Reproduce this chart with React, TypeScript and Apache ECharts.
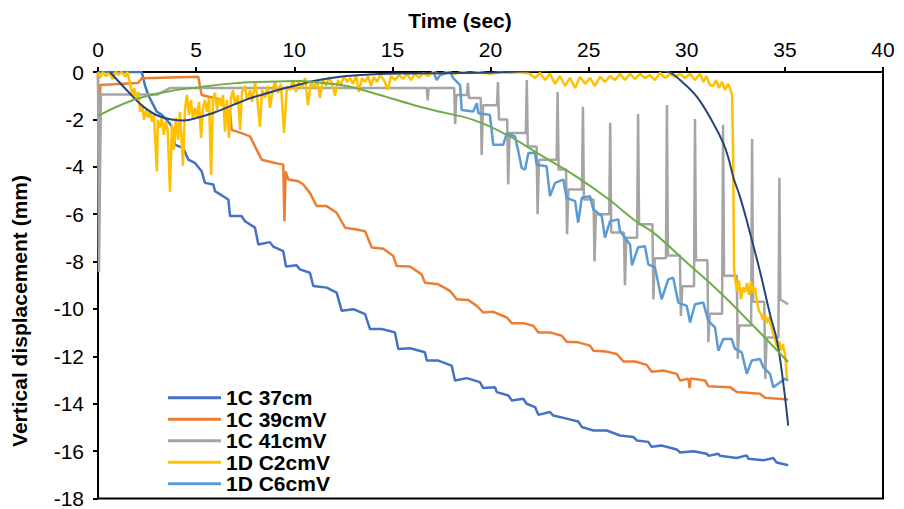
import React, { useEffect, useRef } from 'react';
import * as echarts from 'echarts';

// ---- data (time in s, vertical displacement in mm) ----
const xTickValues = [0, 5, 10, 15, 20, 25, 30, 35, 40];
const yTickValues = [0, -2, -4, -6, -8, -10, -12, -14, -16, -18];
const xTitle = 'Time (sec)';
const yTitle = 'Vertical displacement (mm)';

const seriesNames = ['1C 37cm', '1C 39cmV', '1C 41cmV', '1D C2cmV', '1D C6cmV'];
const trendNames = ['Poly. (1D C2cmV)', 'Poly. (1D C6cmV)'];

const s1C37cm = [
  [0, 0], [2.23, 0], [2.39, -0.55], [2.56, -0.97], [2.99, -1.67], [3.25, -1.81], [3.5, -2.02], [3.76, -2.3],
  [3.92, -3.07], [4.35, -3.21], [4.6, -3.7], [4.94, -3.84], [5.28, -4.19], [5.45, -4.68], [5.88, -4.75],
  [5.96, -5.03], [6.64, -5.38], [6.73, -6.08], [7.32, -6.08], [7.49, -6.3], [8.0, -6.57], [8.17, -7.28],
  [8.76, -7.18], [8.93, -7.37], [9.44, -7.56], [9.58, -8.21], [10.12, -8.16], [10.29, -8.33], [10.8, -8.47],
  [10.97, -9.03], [11.65, -9.1], [12.16, -9.31], [12.42, -10.08], [13.01, -10.01], [13.61, -10.22],
  [13.86, -10.85], [14.46, -10.85], [15.13, -10.99], [15.3, -11.69], [15.9, -11.66], [16.66, -11.83],
  [16.75, -12.18], [17.34, -12.18], [18.02, -12.39], [18.19, -13.02], [18.79, -12.92], [19.46, -13.09],
  [19.63, -13.34], [20.23, -13.3], [20.32, -13.51], [20.91, -13.65], [21.08, -13.86], [21.67, -13.79],
  [21.84, -14.0], [22.27, -14.14], [22.44, -14.47], [23.03, -14.35], [23.2, -14.5], [23.88, -14.63],
  [24.47, -14.75], [24.65, -14.98], [25.24, -15.13], [25.92, -15.13], [26.6, -15.34], [27.28, -15.4],
  [27.45, -15.55], [28.04, -15.61], [28.21, -15.82], [28.72, -15.76], [29.49, -15.93], [29.66, -16.06],
  [30.33, -16.01], [31.02, -16.11], [31.1, -16.2], [31.61, -16.11], [31.69, -16.2], [32.54, -16.29],
  [33.05, -16.18], [33.14, -16.32], [33.9, -16.39], [34.41, -16.29], [34.58, -16.48], [35.17, -16.6],
];

const s1C39cmV = [
  [0, 0], [0.05, -4.0], [0.12, -0.55], [2.04, -0.46], [2.23, -0.26], [5.11, -0.2], [5.28, -0.97],
  [5.96, -1.11], [6.3, -1.18], [6.47, -1.6], [6.73, -1.67], [6.81, -2.44], [7.32, -2.58], [7.75, -2.72],
  [8.0, -3.14], [8.34, -3.7], [9.02, -3.84], [9.44, -3.91], [9.5, -6.3], [9.56, -4.2], [9.7, -4.54],
  [10.21, -4.61], [10.46, -4.75], [10.8, -5.1], [11.14, -5.66], [11.65, -5.66], [12.16, -5.94],
  [12.59, -6.57], [13.1, -6.64], [13.61, -6.72], [13.95, -7.41], [14.54, -7.46], [15.05, -7.77],
  [15.22, -8.19], [15.9, -8.21], [16.49, -8.54], [16.66, -8.89], [17.34, -8.96], [17.94, -9.24],
  [18.28, -9.59], [18.87, -9.62], [19.3, -9.87], [19.63, -10.15], [20.14, -10.12], [20.83, -10.36],
  [21.08, -10.6], [21.67, -10.6], [22.18, -10.71], [22.44, -10.99], [23.03, -10.99], [23.63, -11.13],
  [23.88, -11.38], [24.47, -11.41], [25.07, -11.55], [25.24, -11.76], [25.92, -11.8], [26.43, -11.9],
  [26.77, -12.22], [27.36, -12.22], [27.96, -12.36], [28.21, -12.65], [28.8, -12.6], [29.49, -12.74],
  [29.66, -13.02], [30.08, -12.95], [30.15, -13.34], [30.2, -12.93], [30.93, -13.02], [31.1, -13.26],
  [32.2, -13.3], [32.55, -13.51], [33.73, -13.58], [33.99, -13.75], [35.17, -13.82],
];

const s1C41cmV = [
  [0, 0], [0.05, -8.45], [0.15, -0.95], [3.05, -0.95], [3.65, -0.68], [16.75, -0.68], [16.8, -1.2],
  [16.85, -0.68], [18.15, -0.68], [18.2, -2.2], [18.26, -0.97], [18.8, -0.97], [18.85, -0.46], [18.9, -1.1],
  [19.5, -1.1], [19.55, -3.5], [19.62, -1.4], [20.33, -1.4], [20.38, -0.42], [20.43, -2.0],
  [20.85, -2.0], [20.9, -4.75], [20.97, -2.57], [21.8, -2.57], [21.85, -0.34], [21.9, -3.14],
  [22.35, -3.14], [22.4, -6.0], [22.47, -3.7], [23.37, -3.7], [23.42, -0.84], [23.47, -4.12],
  [23.85, -4.12], [23.9, -6.85], [23.97, -4.96], [24.66, -4.96], [24.71, -1.47], [24.76, -5.38],
  [25.25, -5.38], [25.3, -8.0], [25.37, -6.0], [26.05, -6.0], [26.1, -2.14], [26.15, -6.77],
  [26.8, -6.77], [26.85, -9.0], [26.92, -7.0], [27.47, -7.0], [27.52, -1.77], [27.57, -6.43],
  [28.25, -6.43], [28.3, -9.6], [28.37, -7.86], [28.94, -7.86], [28.99, -1.39], [29.04, -7.74],
  [29.65, -7.74], [29.7, -10.3], [29.77, -9.04], [30.37, -9.04], [30.42, -1.98], [30.47, -7.95],
  [31.05, -7.95], [31.1, -11.4], [31.17, -10.2], [31.8, -10.2], [31.85, -2.23], [31.9, -8.6],
  [32.55, -8.6], [32.6, -12.1], [32.67, -10.7], [33.28, -10.7], [33.33, -2.83], [33.38, -9.7],
  [33.95, -9.7], [34.0, -12.95], [34.07, -11.2], [34.67, -11.2], [34.72, -4.46], [34.77, -9.6],
  [35.17, -9.8],
];

const s1DC2cmV = [
  [0, 0], [0.1, -0.25], [0.25, 0], [0.4, -0.17], [0.6, -0.05], [0.75, -0.3], [0.9, 0], [1.05, -0.12],
  [1.2, 0], [1.4, -0.2], [1.5, 0], [1.6, -0.35], [1.75, -0.97], [1.85, -0.67], [1.95, -1.18], [2.05, -0.84],
  [2.15, -1.68], [2.25, -1.39], [2.35, -2.02], [2.45, -1.6], [2.55, -1.93], [2.65, -1.68], [2.75, -2.1],
  [2.85, -1.81], [3.0, -4.2], [3.05, -2.02], [3.15, -2.35], [3.25, -1.93], [3.35, -2.65], [3.45, -2.1],
  [3.55, -2.44], [3.67, -5.05], [3.77, -2.23], [3.87, -3.28], [3.97, -1.93], [4.08, -2.86], [4.18, -1.68],
  [4.33, -3.95], [4.43, -1.6], [4.53, -0.97], [4.64, -1.81], [4.74, -1.18], [4.84, -2.02], [4.94, -1.51],
  [5.04, -1.93], [5.15, -1.26], [5.25, -2.78], [5.35, -1.51], [5.45, -1.18], [5.55, -1.68], [5.66, -1.09],
  [5.76, -4.33], [5.86, -1.18], [5.96, -0.88], [6.06, -1.6], [6.17, -1.09], [6.27, -1.43], [6.37, -0.97],
  [6.47, -2.52], [6.57, -1.18], [6.67, -2.78], [6.78, -1.09], [6.88, -0.76], [6.98, -1.39], [7.13, -0.97],
  [7.24, -2.44], [7.34, -0.84], [7.49, -0.59], [7.59, -1.18], [7.75, -0.76], [7.85, -1.26], [8.0, -0.42],
  [8.1, -0.97], [8.25, -2.31], [8.36, -0.76], [8.51, -1.09], [8.66, -0.59], [8.76, -1.51], [8.92, -0.67],
  [9.02, -0.42], [9.17, -0.88], [9.32, -0.5], [9.48, -2.57], [9.63, -0.59], [9.78, -0.76], [9.94, -0.34],
  [10.09, -0.84], [10.24, -0.42], [10.39, -0.67], [10.55, -0.25], [10.7, -1.4], [10.85, -0.42],
  [11.01, -0.67], [11.16, -0.34], [11.31, -1.1], [11.46, -0.29], [11.62, -0.59], [11.77, -0.21],
  [11.92, -0.5], [12.08, -1.0], [12.23, -0.34], [12.38, -0.55], [12.53, -0.17], [12.69, -0.42],
  [12.84, -0.25], [12.99, -0.5], [13.15, -0.17], [13.3, -0.84], [13.45, -0.25], [13.61, -0.42],
  [13.76, -0.17], [13.91, -0.59], [14.06, -0.21], [14.22, -0.42], [14.37, -0.13], [14.57, -0.34],
  [14.78, -0.76], [14.93, -0.17], [15.13, -0.34], [15.34, -0.13], [15.54, -0.29], [15.74, -0.08],
  [15.95, -0.34], [16.15, -0.08], [16.36, -0.25], [16.56, -0.04], [16.82, -0.17], [17.07, 0],
  [17.43, -0.08], [17.78, 0], [18.19, -0.08], [18.55, 0], [18.96, -0.04], [19.46, 0], [19.97, -0.08],
  [20.48, 0], [21.0, -0.04], [21.5, 0], [22.01, -0.08], [22.27, -0.25], [22.52, -0.04], [22.78, -0.34],
  [23.03, -0.08], [23.29, -0.5], [23.54, -0.17], [23.8, -0.59], [24.05, -0.25], [24.31, -0.67],
  [24.56, -0.21], [24.82, -0.5], [25.07, -0.25], [25.32, -0.59], [25.58, -0.21], [25.83, -0.42],
  [26.09, -0.17], [26.34, -0.34], [26.6, -0.08], [26.85, -0.34], [27.11, -0.08], [27.36, -0.29],
  [27.62, -0.08], [27.87, -0.25], [28.13, -0.13], [28.38, -0.34], [28.64, -0.04], [28.89, -0.25],
  [29.15, -0.08], [29.4, -0.21], [29.66, -0.08], [29.91, -0.25], [30.17, -0.08], [30.42, -0.34],
  [30.68, -0.08], [30.85, -0.42], [31.0, -0.17], [31.18, -0.55], [31.34, -0.59], [31.5, -0.34],
  [31.64, -0.67], [31.8, -0.42], [31.95, -0.76], [32.1, -0.5], [32.2, -0.67], [32.31, -0.97],
  [32.36, -3.28], [32.41, -8.3], [32.46, -8.7], [32.56, -9.25], [32.66, -8.8], [32.76, -9.59],
  [32.87, -9.08], [32.97, -9.3], [33.07, -8.9], [33.17, -9.4], [33.27, -8.84], [33.38, -9.3],
  [33.48, -9.1], [33.58, -9.7], [33.68, -10.1], [33.78, -10.2], [33.89, -10.45], [33.99, -10.26],
  [34.09, -10.6], [34.19, -10.34], [34.29, -10.7], [34.39, -11.0], [34.5, -11.3], [34.6, -11.6],
  [34.7, -11.35], [34.8, -11.75], [34.9, -11.5], [35.01, -11.9], [35.11, -12.95],
];

const s1DC6cmV = [
  [17.09, 0], [17.26, -0.34], [17.43, -0.13], [17.94, 0], [18.1, -0.26], [18.45, -0.55], [18.53, -1.6],
  [19.12, -1.67], [19.3, -1.32], [19.38, -1.74], [19.97, -1.81], [20.14, -3.07], [20.65, -3.07],
  [20.83, -2.58], [21.25, -2.72], [21.42, -3.35], [21.59, -4.05], [21.76, -4.12], [21.93, -3.42],
  [22.27, -3.42], [22.35, -3.91], [22.86, -3.98], [23.03, -5.24], [23.29, -4.68], [23.71, -4.54],
  [23.88, -5.31], [24.31, -5.45], [24.47, -6.36], [24.65, -5.31], [25.07, -5.24], [25.24, -5.8],
  [25.67, -6.08], [25.83, -6.99], [26.09, -6.3], [26.51, -6.22], [26.6, -6.72], [27.11, -7.28],
  [27.21, -8.16], [27.52, -7.4], [27.87, -7.35], [28.04, -8.12], [28.38, -8.25], [28.72, -9.59],
  [29.06, -8.75], [29.31, -8.68], [29.57, -9.73], [30.0, -9.87], [30.17, -10.57], [30.42, -9.8],
  [30.84, -9.73], [31.1, -10.5], [31.44, -10.78], [31.61, -11.76], [31.86, -11.27], [32.29, -11.27],
  [32.46, -11.69], [32.8, -11.83], [33.06, -12.74], [33.31, -12.18], [33.73, -12.11], [33.9, -12.46],
  [34.24, -12.74], [34.41, -13.3], [34.66, -13.16], [35.01, -12.95], [35.17, -13.02],
];

const trendNavy = [
  [0.61, 0], [1.46, -0.76], [2.31, -1.46], [3.16, -1.88], [4.35, -2.05], [5.2, -1.9], [6.05, -1.67],
  [6.89, -1.39], [7.75, -1.11], [8.6, -0.9], [9.44, -0.7], [10.3, -0.52], [11.0, -0.38], [12.67, -0.17],
  [14.37, -0.08], [16.05, -0.06], [17.26, -0.05], [19.46, -0.03], [21.15, 0.01], [22.37, 0.04],
  [24.0, 0.12], [26.0, 0.15], [28.0, 0.1], [29.06, 0.01], [29.66, -0.34], [30.51, -1.04], [31.35, -2.16],
  [31.86, -3.0], [32.12, -3.62], [32.38, -4.46], [32.71, -5.26], [33.07, -6.31], [33.73, -8.41],
  [34.24, -10.22], [34.6, -11.35], [34.9, -13.0], [35.17, -14.92],
];

const trendGreen = [
  [0, -1.85], [1.8, -1.18], [3.5, -0.83], [5.2, -0.64], [6.89, -0.48], [8.6, -0.41], [10.29, -0.38],
  [10.96, -0.42], [12.67, -0.59], [14.37, -0.97], [16.07, -1.39], [17.43, -1.68], [19.12, -2.02],
  [20.83, -2.65], [22.52, -3.49], [24.22, -4.33], [25.92, -5.31], [27.43, -6.31], [28.3, -6.78],
  [30.0, -8.04], [31.7, -9.31], [33.39, -10.71], [35.17, -12.24],
];

// ---- styles ----
const seriesColors = ['#4472C4', '#ED7D31', '#A5A5A5', '#FFC000', '#5B9BD5'];
const trendColors = ['#264478', '#70AD47'];
const FONT = 'Liberation Sans, Arial, Helvetica, sans-serif';

export default function App() {
  const ref = useRef<HTMLDivElement>(null);

  useEffect(() => {
    if (!ref.current) return;
    const chart = echarts.init(ref.current, undefined, { renderer: 'svg' });
    const dataSets = [s1C37cm, s1C39cmV, s1C41cmV, s1DC2cmV, s1DC6cmV];
    const trends = [trendNavy, trendGreen];

    const series: any[] = dataSets.map((d, i) => ({
      name: seriesNames[i],
      type: 'line',
      data: d,
      showSymbol: false,
      symbol: 'none',
      clip: true,
      lineStyle: { color: seriesColors[i], width: 2.5 },
      itemStyle: { color: seriesColors[i] },
      z: 2 + i,
    }));
    trends.forEach((d, i) => {
      series.push({
        name: trendNames[i],
        type: 'line',
        data: d,
        showSymbol: false,
        symbol: 'none',
        smooth: 0.4,
        clip: true,
        lineStyle: { color: trendColors[i], width: 2 },
        itemStyle: { color: trendColors[i] },
        z: 10 + i,
      });
    });

    chart.setOption({
      animation: false,
      backgroundColor: '#ffffff',
      grid: {
        left: 98, right: 21, top: 72, bottom: 9,
        show: true, borderColor: '#000', borderWidth: 2, backgroundColor: 'transparent',
      },
      graphic: [
        {
          type: 'text', x: 460, y: 20,
          style: {
            text: xTitle, fill: '#000', fontSize: 21, fontWeight: 'bold', fontFamily: FONT,
            textAlign: 'center', textVerticalAlign: 'middle',
          },
        },
        {
          type: 'text', x: 19, y: 311, rotation: Math.PI / 2,
          style: {
            text: yTitle, fill: '#000', fontSize: 21, fontWeight: 'bold', fontFamily: FONT,
            textAlign: 'center', textVerticalAlign: 'middle',
          },
        },
      ],
      xAxis: {
        type: 'value', position: 'top', min: 0, max: 40, interval: 5,
        axisLine: { show: true, onZero: false, lineStyle: { color: '#000', width: 2 } },
        axisTick: { show: true, inside: false, length: 5, lineStyle: { color: '#000', width: 2 } },
        axisLabel: {
          fontSize: 21, color: '#000', fontFamily: FONT, margin: 12,
          formatter: (v: number) => (xTickValues.includes(v) ? String(v) : ''),
        },
        splitLine: { show: false },
      },
      yAxis: {
        type: 'value', min: -18, max: 0, interval: 2,
        axisLine: { show: true, onZero: false, lineStyle: { color: '#000', width: 2 } },
        axisTick: { show: true, inside: false, length: 5, lineStyle: { color: '#000', width: 2 } },
        axisLabel: {
          fontSize: 21, color: '#000', fontFamily: FONT, margin: 14,
          formatter: (v: number) => (yTickValues.includes(v) ? String(v) : ''),
        },
        splitLine: { show: false },
      },
      legend: {
        data: seriesNames,
        orient: 'vertical',
        left: 163, top: 382,
        itemWidth: 53, itemHeight: 3, itemGap: 0,
        icon: 'rect',
        textStyle: { fontSize: 21, fontWeight: 'bold', color: '#000', fontFamily: FONT, lineHeight: 21.5 },
      },
      series,
    });
    return () => chart.dispose();
  }, []);

  return (
    <div
      ref={ref}
      style={{ position: 'fixed', left: 0, top: 0, width: 904, height: 509, background: '#fff' }}
    />
  );
}
